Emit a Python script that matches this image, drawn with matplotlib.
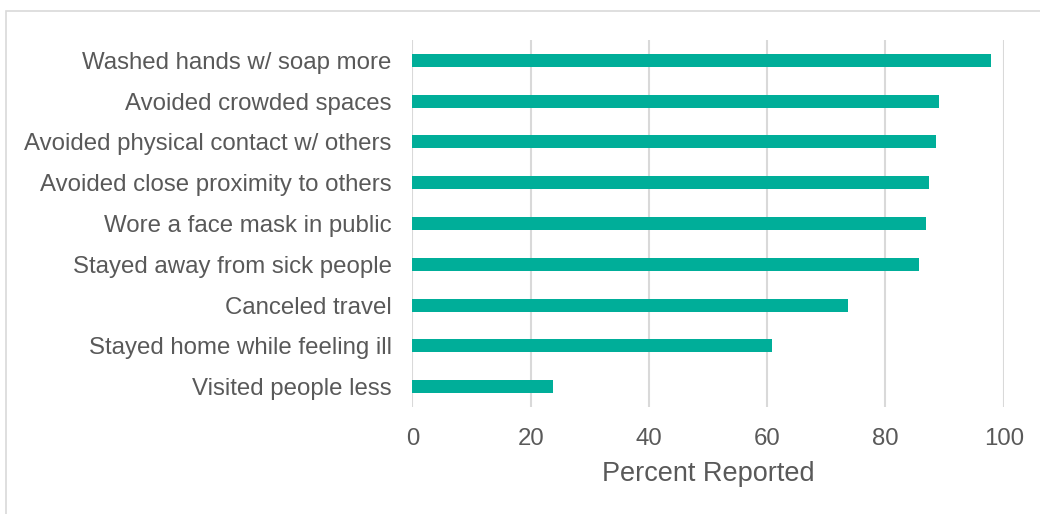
import matplotlib.pyplot as plt
from matplotlib.patches import Rectangle

# Protective behaviours, listed bottom to top
behaviours = [
    "Visited people less",
    "Stayed home while feeling ill",
    "Canceled travel",
    "Stayed away from sick people",
    "Wore a face mask in public",
    "Avoided close proximity to others",
    "Avoided physical contact w/ others",
    "Avoided crowded spaces",
    "Washed hands w/ soap more",
]
percent_reported = [23.8, 60.8, 73.7, 85.7, 86.8, 87.4, 88.5, 89.1, 97.9]
x_ticks = [0, 20, 40, 60, 80, 100]

bar_color = "#00AE99"
text_color = "#595959"

plt.rcParams["font.family"] = ["Liberation Sans", "DejaVu Sans"]

fig = plt.figure(figsize=(10.4, 5.14), dpi=100)
ax = fig.add_axes([0.3966, 0.2082, 0.5685, 0.714])

ax.barh(range(len(behaviours)), percent_reported, height=0.32, color=bar_color, zorder=3)

ax.set_xlim(0, 100)
ax.set_ylim(-0.5, len(behaviours) - 0.5)
ax.set_xticks(x_ticks)
ax.set_yticks(range(len(behaviours)))
ax.set_yticklabels(behaviours)
ax.tick_params(axis="both", length=0, colors=text_color, labelsize=17.3)
ax.tick_params(axis="y", pad=15)
ax.tick_params(axis="x", pad=15)
ax.set_xlabel("Percent Reported", fontsize=19.5, color=text_color, labelpad=8)

ax.grid(axis="x", color="#D9D9D9", linewidth=1.5, zorder=0)
for side in ax.spines.values():
    side.set_visible(False)

# light frame round the chart area (open on the right)
fig.patches.append(Rectangle((6 / 1040, -0.01), 1.1, 1 - 10.5 / 514 + 0.01,
                             transform=fig.transFigure, fill=False,
                             edgecolor="#D9D9D9", linewidth=1.2))

fig.savefig("out.png", dpi=100)
